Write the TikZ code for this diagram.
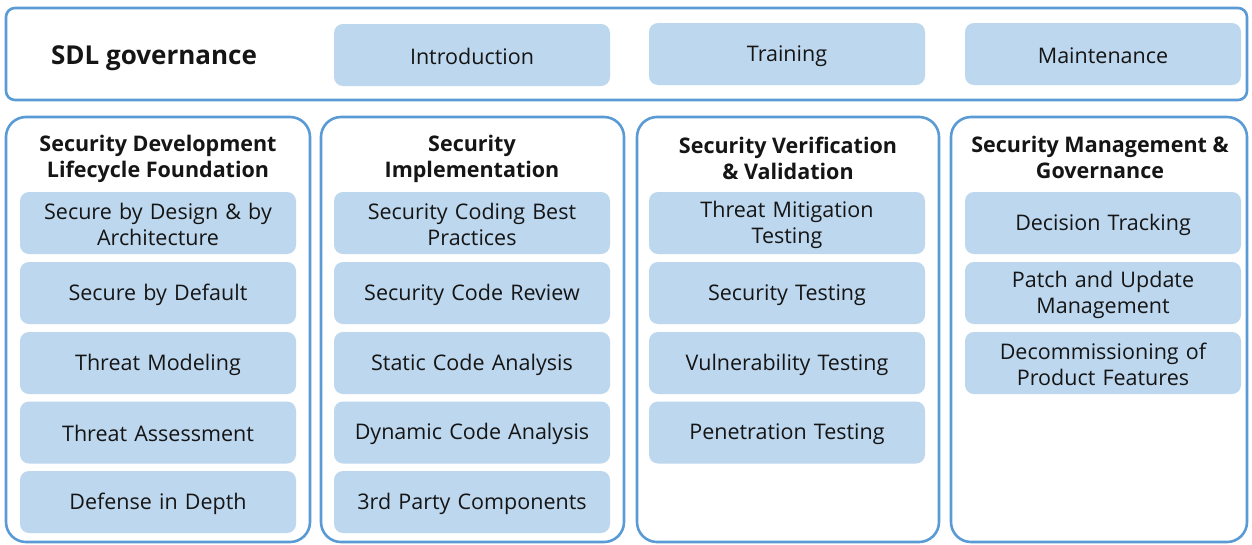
\documentclass[tikz,border=0pt]{standalone}
\usepackage{fontspec}
\setmainfont{Open Sans}
\definecolor{frameblue}{HTML}{5B9BD5}
\definecolor{itemblue}{HTML}{BDD7EE}
\definecolor{txt}{HTML}{151515}
\newcommand\mystrut{\rule[-2pt]{0pt}{22pt}}
\tikzset{
  frame/.style={draw=frameblue, line width=2.6pt, fill=white},
  colframe/.style={frame, rounded corners=20pt},
  topframe/.style={frame, rounded corners=9pt},
  struts/.style={execute at begin node=\mystrut, execute at end node=\mystrut},
  item/.style={struts, fill=itemblue, rounded corners=9pt, minimum width=276pt, minimum height=62pt, inner sep=0pt, text width=270pt, align=center, font=\fontsize{21.5pt}{26pt}\selectfont, text=txt},
  coltitle/.style={struts, align=center, font=\fontsize{21.5pt}{26pt}\selectfont\bfseries, text=txt, inner sep=0pt},
}
\begin{document}
\begin{tikzpicture}[x=1pt,y=-1pt]
\useasboundingbox (0,0) rectangle (1252,544);
% top governance bar
\draw[topframe] (6,8) rectangle (1247,100);
\node[coltitle, font=\fontsize{26pt}{30pt}\selectfont\bfseries] (gov) at (154,58) {SDL governance};
\node[item] (intro) at (472,55) {Introduction};
\node[item] (train) at (787,54) {Training};
\node[item] (maint) at (1103,54) {Maintenance};
% columns
\draw[colframe] (6,117) rectangle (310,542);
\draw[colframe] (321,117) rectangle (624,542);
\draw[colframe] (637,117) rectangle (939,542);
\draw[colframe] (951,117) rectangle (1247,542);
% column titles
\node[coltitle] (t1) at (158,159) {Security Development\\Lifecycle Foundation};
\node[coltitle] (t2) at (472,159) {Security\\Implementation};
\node[coltitle] (t3) at (788,159) {Security Verification\\\& Validation};
\node[coltitle] (t4) at (1100,158) {Security Management \&\\Governance};
% column 1
\node[item] (a1) at (158,223) {Secure by Design \& by\\Architecture};
\node[item] (a2) at (158,293) {Secure by Default};
\node[item] (a3) at (158,363) {Threat Modeling};
\node[item] (a4) at (158,432.5) {Threat Assessment};
\node[item] (a5) at (158,502) {Defense in Depth};
% column 2
\node[item] (b1) at (472,223) {Security Coding Best\\Practices};
\node[item] (b2) at (472,293) {Security Code Review};
\node[item] (b3) at (472,363) {Static Code Analysis};
\node[item] (b4) at (472,432.5) {Dynamic Code Analysis};
\node[item] (b5) at (472,502) {3rd Party Components};
% column 3
\node[item] (c1) at (787,223) {Threat Mitigation\\Testing};
\node[item] (c2) at (787,293) {Security Testing};
\node[item] (c3) at (787,363) {Vulnerability Testing};
\node[item] (c4) at (787,432.5) {Penetration Testing};
% column 4
\node[item] (d1) at (1103,223) {Decision Tracking};
\node[item] (d2) at (1103,293) {Patch and Update\\Management};
\node[item] (d3) at (1103,363) {Decommissioning of\\Product Features};
\end{tikzpicture}
\end{document}
